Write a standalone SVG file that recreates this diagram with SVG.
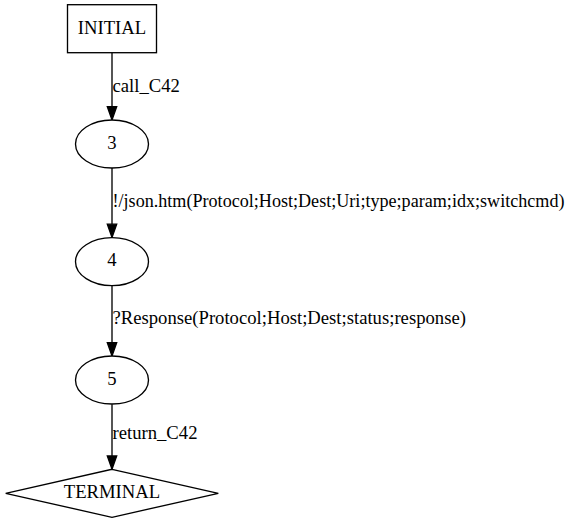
<svg xmlns="http://www.w3.org/2000/svg" width="571" height="523" viewBox="0 0 571 523">
<defs>
<style>
text{font-family:"Liberation Serif","Times New Roman",serif;font-size:18.67px;fill:#000}
.node{fill:#fff;stroke:#000;stroke-width:1.33}
.edge line{stroke:#000;stroke-width:1.33}
.edge polygon{fill:#000;stroke:#000;stroke-width:1.33}
.c{text-anchor:middle}
.long{font-size:18.1px}
</style>
</defs>
<rect width="571" height="523" fill="#fff"/>
<g id="connectors" class="edge">
<g id="e_initial_3">
<line x1="112" y1="52.7" x2="112" y2="106.7"/>
<polygon points="107.3,106.7 116.7,106.7 112,120"/>
<text x="112.5" y="91.7">call_C42</text>
</g>
<g id="e_3_4">
<line x1="112" y1="168" x2="112" y2="224.2"/>
<polygon points="107.3,224.2 116.7,224.2 112,237.5"/>
<text class="long" x="112.5" y="206.7" textLength="452" lengthAdjust="spacingAndGlyphs">!/json.htm(Protocol;Host;Dest;Uri;type;param;idx;switchcmd)</text>
</g>
<g id="e_4_5">
<line x1="112" y1="285.7" x2="112" y2="342.7"/>
<polygon points="107.3,342.7 116.7,342.7 112,356"/>
<text x="112.5" y="323.5">?Response(Protocol;Host;Dest;status;response)</text>
</g>
<g id="e_5_terminal">
<line x1="112" y1="404.3" x2="112" y2="456"/>
<polygon points="107.3,456 116.7,456 112,469.3"/>
<text x="112.5" y="439.3">return_C42</text>
</g>
</g>
<g id="node_initial">
<rect class="node" x="67.5" y="4.7" width="89" height="48"/>
<text class="c" x="112" y="33.5">INITIAL</text>
</g>
<g id="node_3">
<ellipse class="node" cx="112" cy="144" rx="36.5" ry="24"/>
<text class="c" x="112" y="148.7">3</text>
</g>
<g id="node_4">
<ellipse class="node" cx="112" cy="261.7" rx="36.5" ry="24"/>
<text class="c" x="112" y="266.4">4</text>
</g>
<g id="node_5">
<ellipse class="node" cx="112" cy="380" rx="36.5" ry="24"/>
<text class="c" x="112" y="384.7">5</text>
</g>
<g id="node_terminal">
<polygon class="node" points="112,469.3 218.3,493.3 112,517.3 5.7,493.3"/>
<text class="c" x="112" y="498">TERMINAL</text>
</g>
</svg>
